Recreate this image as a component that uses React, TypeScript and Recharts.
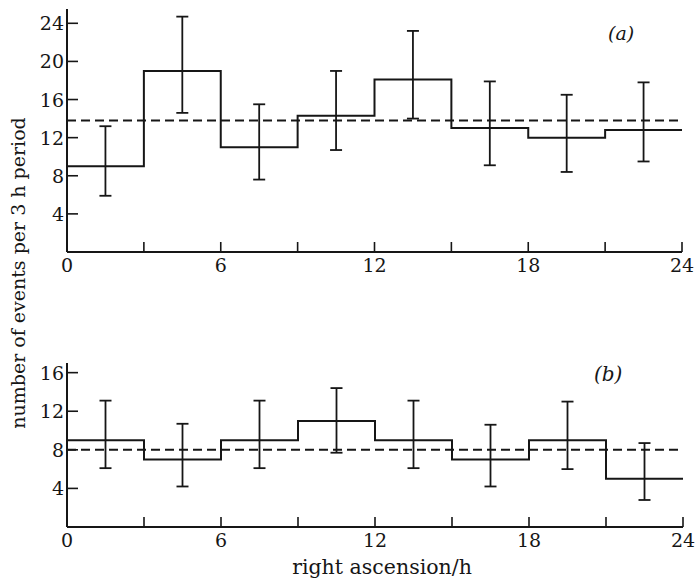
import {
  ComposedChart,
  ErrorBar,
  Line,
  ReferenceLine,
  Scatter,
  XAxis,
  YAxis,
} from 'recharts';

// bin edges in hours (right ascension)
const binEdges = [0, 3, 6, 9, 12, 15, 18, 21, 24];
const binCentres = [1.5, 4.5, 7.5, 10.5, 13.5, 16.5, 19.5, 22.5];
const xTicks = [0, 3, 6, 9, 12, 15, 18, 21, 24];

// panel (a)
const countsA = [9, 19, 11, 14.3, 18.1, 13, 12, 12.8];
const lowerA = [5.9, 14.6, 7.6, 10.7, 14, 9.1, 8.4, 9.5];
const upperA = [13.2, 24.7, 15.5, 19, 23.2, 17.9, 16.5, 17.8];
const meanA = 13.8;
const yTicksA = [4, 8, 12, 16, 20, 24];

// panel (b)
const countsB = [9, 7, 9, 11, 9, 7, 9, 5];
const lowerB = [6.1, 4.2, 6.1, 7.7, 6.1, 4.2, 6, 2.8];
const upperB = [13.1, 10.7, 13.1, 14.4, 13.1, 10.6, 13, 8.7];
const meanB = 8;
const yTicksB = [4, 8, 12, 16];

const INK = '#161616';
const FONT = '"DejaVu Serif", "Liberation Serif", serif';

const stepData = (counts: number[]) =>
  binEdges.map((x, i) => ({ x, y: counts[Math.min(i, counts.length - 1)] }));

const errData = (counts: number[], lo: number[], hi: number[]) =>
  binCentres.map((x, i) => ({ x, y: counts[i], err: [counts[i] - lo[i], hi[i] - counts[i]] }));

const YTick = (props: any) => {
  const { x, y, payload } = props;
  return (
    <g>
      <line x1={x} y1={y} x2={x + 11} y2={y} stroke={INK} strokeWidth={1.6} />
      <text x={x - 3} y={y + 7} textAnchor="end" fontFamily={FONT} fontSize={19} fill={INK}>
        {payload.value}
      </text>
    </g>
  );
};

const XTick = (props: any) => {
  const { x, y, payload } = props;
  const v = payload.value as number;
  return (
    <g>
      <line x1={x} y1={y} x2={x} y2={y - 10} stroke={INK} strokeWidth={1.6} />
      {v % 6 === 0 && (
        <text x={x} y={y + 20} textAnchor="middle" fontFamily={FONT} fontSize={19} fill={INK}>
          {v}
        </text>
      )}
    </g>
  );
};

const noDot = () => <g />;

function Panel({
  counts,
  lo,
  hi,
  mean,
  yTicks,
  yMax,
  height,
  top,
  xHeight,
  right,
}: {
  counts: number[];
  lo: number[];
  hi: number[];
  mean: number;
  yTicks: number[];
  yMax: number;
  height: number;
  top: number;
  xHeight: number;
  right: number;
}) {
  return (
    <ComposedChart
      width={696}
      height={height}
      margin={{ top, right, bottom: 0, left: 0 }}
    >
      <XAxis
        type="number"
        dataKey="x"
        domain={[0, 24]}
        ticks={xTicks}
        interval={0}
        height={xHeight}
        tickSize={0}
        tickMargin={0}
        tick={<XTick />}
        axisLine={{ stroke: INK, strokeWidth: 2 }}
        allowDataOverflow
      />
      <YAxis
        type="number"
        dataKey="y"
        domain={[0, yMax]}
        ticks={yTicks}
        interval={0}
        width={67}
        tickSize={0}
        tickMargin={0}
        tick={<YTick />}
        axisLine={{ stroke: INK, strokeWidth: 2 }}
        allowDataOverflow
      />
      <ReferenceLine y={mean} stroke={INK} strokeWidth={2} strokeDasharray="9 5" />
      <Line
        data={stepData(counts)}
        dataKey="y"
        type="stepAfter"
        stroke={INK}
        strokeWidth={2}
        dot={false}
        activeDot={false}
        isAnimationActive={false}
      />
      <Scatter
        data={errData(counts, lo, hi)}
        dataKey="y"
        shape={noDot}
        isAnimationActive={false}
      >
        <ErrorBar dataKey="err" direction="y" width={6} stroke={INK} strokeWidth={1.8} isAnimationActive={false} />
      </Scatter>
    </ComposedChart>
  );
}

export default function App() {
  return (
    <div
      style={{
        position: 'absolute',
        left: 0,
        top: 0,
        width: 696,
        height: 579,
        background: '#fff',
        fontFamily: FONT,
        color: INK,
      }}
    >
      <div style={{ position: 'absolute', left: 0, top: 0 }}>
        <Panel
          counts={countsA}
          lo={lowerA}
          hi={upperA}
          mean={meanA}
          yTicks={yTicksA}
          yMax={25.5}
          height={290}
          top={9}
          xHeight={38}
          right={14}
        />
      </div>
      <div style={{ position: 'absolute', left: 0, top: 290 }}>
        <Panel
          counts={countsB}
          lo={lowerB}
          hi={upperB}
          mean={meanB}
          yTicks={yTicksB}
          yMax={17}
          height={289}
          top={73}
          xHeight={52}
          right={13}
        />
      </div>
      <div
        style={{
          position: 'absolute',
          left: 608,
          top: 22,
          fontSize: 19,
          fontStyle: 'italic',
        }}
      >
        (a)
      </div>
      <div
        style={{
          position: 'absolute',
          left: 594,
          top: 362,
          fontSize: 20,
          fontStyle: 'italic',
        }}
      >
        (b)
      </div>
      <div
        style={{
          position: 'absolute',
          left: 382,
          top: 567,
          transform: 'translate(-50%, -50%)',
          fontSize: 20.5,
          whiteSpace: 'nowrap',
        }}
      >
        right ascension/h
      </div>
      <div
        style={{
          position: 'absolute',
          left: 18,
          top: 273,
          transform: 'translate(-50%, -50%) rotate(-90deg)',
          fontSize: 19,
          whiteSpace: 'nowrap',
        }}
      >
        number of events per 3 h period
      </div>
    </div>
  );
}
